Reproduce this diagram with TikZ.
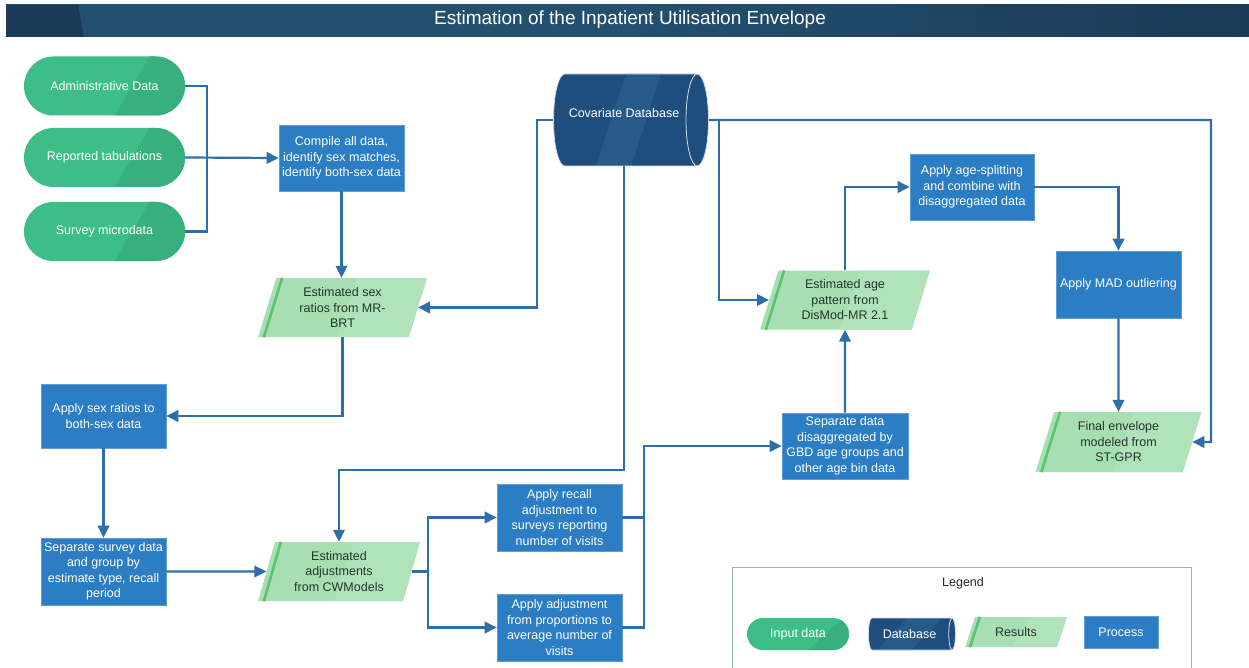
\documentclass[tikz,border=0pt]{standalone}
\usepackage{fontspec}
\setmainfont{Liberation Sans}
\usetikzlibrary{shapes.geometric,arrows.meta,calc}

\definecolor{titlebg}{HTML}{23506F}
\definecolor{titledk}{HTML}{1B3A57}
\definecolor{inputg}{HTML}{3DBE89}
\definecolor{inputd}{HTML}{37B07E}
\definecolor{procb}{HTML}{2B7DC4}
\definecolor{dbb}{HTML}{1F4E7E}
\definecolor{dbl}{HTML}{275A8B}
\definecolor{resg}{HTML}{A8DFB2}
\definecolor{resl}{HTML}{B0E3B9}
\definecolor{resstr}{HTML}{5CC46C}
\definecolor{restext}{HTML}{25352A}
\definecolor{linec}{HTML}{2F6FA9}
\definecolor{legbd}{HTML}{9DB3B3}

\tikzset{
  base/.style={align=center, inner sep=1pt, font=\fontsize{12.5}{15.5}\selectfont},
  inputnode/.style={base, rectangle, rounded corners=29.5pt, fill=inputg, text=white,
    minimum width=161pt, minimum height=59pt,
    path picture={\fill[inputd, sharp corners]
      ($(path picture bounding box.north)+(45,0)$) -- (path picture bounding box.north east)
      -- (path picture bounding box.south east) -- ($(path picture bounding box.south)+(10,0)$) -- cycle;}},
  procnode/.style={base, rectangle, fill=procb, draw=procb!75!white, line width=0.6pt,
    text=white, minimum width=125pt, minimum height=66pt},
  resnode/.style={base, trapezium, trapezium left angle=74, trapezium right angle=106,
    trapezium stretches=true, fill=resg, text=restext, minimum height=59pt,
    path picture={\fill[resl]
      ($(path picture bounding box.north)+(15,0)$) -- (path picture bounding box.north east)
      -- (path picture bounding box.south east) -- ($(path picture bounding box.south)+(-5,0)$) -- cycle;}},
  dbnode/.style={base, cylinder, aspect=0.9, fill=dbb, draw=white!80!dbb, line width=0.8pt,
    text=white,
    path picture={\fill[dbl]
      ($(path picture bounding box.north)+(-5,0)$) -- ($(path picture bounding box.north)+(30,0)$)
      -- ($(path picture bounding box.south)+(0,0)$) -- ($(path picture bounding box.south)+(-35,0)$) -- cycle;}},
  stripe/.style={draw=resstr, line width=2.6pt},
  conn/.style={draw=linec, line width=2.2pt},
  arr/.style={conn, -{Triangle[length=12pt,width=11.5pt]}},
}
\newcommand\resstripe[2][6]{\draw[stripe] ($(#2.bottom left corner)+(#1,0)$) -- ($(#2.top left corner)+(#1,0)$);}

\begin{document}
\begin{tikzpicture}[x=1pt,y=-1pt]
\useasboundingbox (0,0) rectangle (1249,668);
\fill[white] (0,0) rectangle (1249,668);

% title bar
\shade[left color=titlebg, right color=titledk, middle color=titlebg] (6,5) rectangle (1249,37);
\fill[titledk] (6,5) -- (78,5) -- (84,37) -- (6,37) -- cycle;
\node[text=white, font=\fontsize{19}{21}\selectfont] (title) at (630,20) {Estimation of the Inpatient Utilisation Envelope};

% input data
\node[inputnode] (adm) at (104.5,86) {Administrative Data};
\node[inputnode] (rep) at (104.5,157.5) {Reported tabulations};
\node[inputnode] (srv) at (104.5,231.5) {Survey microdata};

% processes
\node[procnode] (compile) at (341.5,158) {Compile all data,\\identify sex matches,\\identify both-sex data};
\node[procnode, minimum height=64pt] (sexapp) at (103.5,416) {Apply sex ratios to\\both-sex data};
\node[procnode, minimum height=67pt] (sepsurv) at (103.5,571.5) {Separate survey data\\and group by\\estimate type, recall\\period};
\node[procnode, minimum height=67pt] (recall) at (559.5,517.5) {Apply recall\\adjustment to\\surveys reporting\\number of visits};
\node[procnode, minimum height=67pt] (propadj) at (559.5,627.5) {Apply adjustment\\from proportions to\\average number of\\visits};
\node[procnode, minimum width=126pt] (sepd) at (845,446) {Separate data\\disaggregated by\\GBD age groups and\\other age bin data};
\node[procnode, minimum width=124pt] (split) at (972,187) {Apply age-splitting\\and combine with\\disaggregated data};
\node[procnode, minimum height=67pt] (mad) at (1118.5,284.5) {Apply MAD outliering};

% results
\node[resnode, minimum width=169pt] (sexr) at (342.5,307.5) {Estimated sex\\ratios from MR-\\BRT};
\node[resnode, minimum width=162pt] (adj) at (339,571.5) {Estimated\\adjustments\\from CWModels};
\node[resnode, minimum width=170pt] (age) at (845,300) {Estimated age\\pattern from\\DisMod-MR 2.1};
\node[resnode, minimum width=166pt, minimum height=60pt] (final) at (1118.5,442) {Final envelope\\modeled from\\ST-GPR};
\resstripe{sexr}
\resstripe{adj}
\resstripe{age}
\resstripe{final}

% covariate database (horizontal cylinder: height runs along the axis)
\node[dbnode, minimum width=92pt, minimum height=155pt, text height=9pt, text depth=14pt] (cov) at (624,120) {Covariate Database};

% connectors
\coordinate (join) at (207,157.5);
\draw[conn] (adm.east) -| (join);
\draw[conn] (srv.east) -| (join);
\draw[arr] (rep.east) -- (compile.west);
\draw[arr] (compile.south) -- (compile.south |- sexr.north);
\draw[arr] (cov.west) -- ++(-16,0) |- (sexr.east);
\draw[arr] (sexr.south) |- (sexapp.east);
\draw[arr] (sexapp.south) -- (sepsurv.north);
\draw[arr] (sepsurv.east) -- (adj.west);
\draw[arr] (cov.south) |- ($(adj.north)+(0,-72)$) -- (adj.north);
\draw[arr] (adj.east) -| ($(recall.west)+(-69,0)$) -- (recall.west);
\draw[arr] (adj.east) -| ($(propadj.west)+(-69,0)$) -- (propadj.west);
\draw[arr] (recall.east) -| ($(sepd.west)+(-138,0)$) -- (sepd.west);
\draw[conn] (propadj.east) -| ($(recall.east)+(22,0)$);
\draw[arr] (sepd.north) -- (age.south);
\draw[arr] (cov.east) -- ++(10,0) |- (age.west);
\draw[arr] (age.north) |- (split.west);
\draw[arr] (split.east) -| (mad.north);
\draw[arr] (mad.south) -- (final.north);
\coordinate (rcorner) at (1211,442);
\draw[arr] (cov.east) -| (rcorner) -- (final.east);

% legend
\draw[legbd, line width=1pt] (732,567) rectangle (1191,672);
\node[base, text=restext!80!black] (legtitle) at (963,583) {Legend};
\node[inputnode, minimum width=102pt, minimum height=32pt, rounded corners=16pt] (lin) at (798,634) {Input data};
\node[dbnode, aspect=0.6, minimum width=32pt, minimum height=87pt] (ldb) at (909.5,634) {Database};
\node[resnode, trapezium left angle=65, trapezium right angle=115, minimum width=102pt, minimum height=30pt] (lres) at (1016,632) {Results};
\node[procnode, minimum width=74pt, minimum height=32pt] (lproc) at (1121,632) {Process};
\resstripe[5]{lres}
\end{tikzpicture}
\end{document}
